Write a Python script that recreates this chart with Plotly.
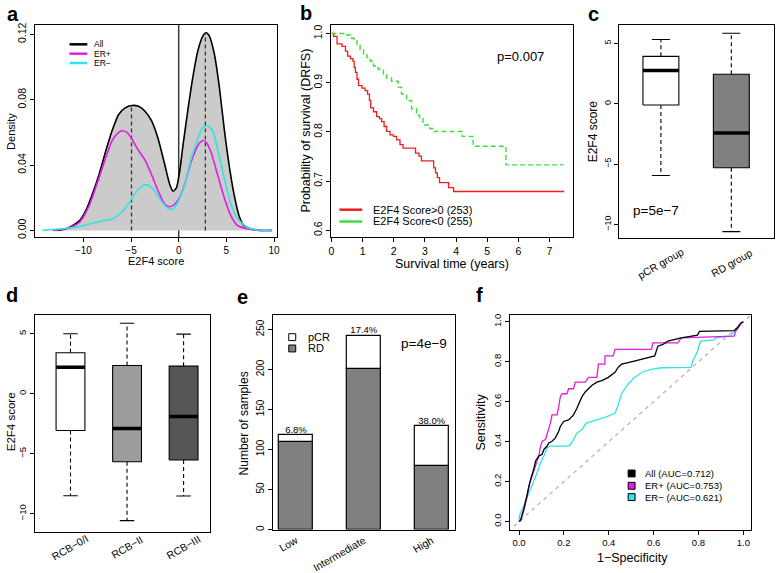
import plotly.graph_objects as go

W, H = 778, 573
FONT = "Liberation Sans, Arial, Helvetica, sans-serif"

# ---------------- data ----------------
# (a) E2F4 score densities
all_x = [-12.8, -11.8, -11.1, -10.4, -9.76, -9.07, -8.37, -7.68, -6.99, -6.30, -5.61, -4.91, -4.22, -3.53,
         -2.84, -2.15, -1.45, -0.93, -0.59, -0.24, 0.10, 0.45, 0.97, 1.49, 2.01, 2.53, 2.87, 3.22, 3.74,
         4.26, 4.78, 5.29, 5.81, 6.33, 6.85, 7.54, 8.58, 9.8]
all_y = [0.0, 0.001, 0.003, 0.006, 0.012, 0.022, 0.034, 0.048, 0.061, 0.071, 0.075, 0.0765, 0.076, 0.073,
         0.067, 0.056, 0.040, 0.028, 0.024, 0.026, 0.036, 0.052, 0.074, 0.094, 0.110, 0.119, 0.121, 0.119,
         0.108, 0.088, 0.062, 0.040, 0.022, 0.009, 0.003, 0.001, 0.0, 0.0]
erpos_x = [-13.2, -11.5, -10.4, -9.4, -8.37, -7.68, -6.99, -6.30, -5.95, -5.43, -4.91, -4.22, -3.53, -2.84,
           -2.15, -1.45, -0.93, -0.42, 0.10, 0.62, 1.31, 2.01, 2.53, 2.87, 3.39, 4.08, 4.78, 5.47, 6.16,
           7.20, 8.6, 9.8]
erpos_y = [0.0, 0.0014, 0.005, 0.015, 0.032, 0.044, 0.055, 0.060, 0.061, 0.060, 0.056, 0.049, 0.043, 0.034,
           0.024, 0.016, 0.0145, 0.016, 0.020, 0.028, 0.042, 0.052, 0.055, 0.054, 0.048, 0.034, 0.020,
           0.009, 0.003, 0.001, 0.0, 0.0]
erneg_x = [-14.3, -12.2, -10.4, -9.07, -8.03, -6.99, -6.30, -5.61, -4.91, -4.22, -3.53, -3.01, -2.32,
           -1.63, -0.93, -0.42, 0.10, 0.62, 1.31, 2.01, 2.53, 3.04, 3.56, 4.08, 4.78, 5.47, 6.16, 7.20,
           8.6, 9.8]
erneg_y = [0.0, 0.001, 0.0024, 0.0044, 0.0058, 0.007, 0.0094, 0.0135, 0.0195, 0.0255, 0.028, 0.027,
           0.0225, 0.0165, 0.013, 0.014, 0.0195, 0.0275, 0.044, 0.056, 0.063, 0.064, 0.061, 0.050, 0.032,
           0.0165, 0.0074, 0.0018, 0.0, 0.0]
mode_x = [-4.95, 2.8]
mode_y = [0.0765, 0.121]
split_x = 0

# (b) Kaplan-Meier DRFS
km_pos_t = [0, 0.07, 0.18, 0.34, 0.45, 0.52, 0.61, 0.69, 0.73, 0.77, 0.82, 0.87, 0.98, 1.08, 1.16, 1.22,
            1.26, 1.35, 1.45, 1.54, 1.61, 1.69, 1.77, 1.88, 1.99, 2.09, 2.20, 2.30, 2.70, 2.81, 2.89,
            3.28, 3.34, 3.40, 3.47, 3.76, 3.92, 7.47]
km_pos_s = [1.0, 0.994, 0.979, 0.974, 0.964, 0.954, 0.949, 0.944, 0.931, 0.921, 0.907, 0.894, 0.889,
            0.884, 0.877, 0.864, 0.849, 0.841, 0.831, 0.827, 0.821, 0.811, 0.801, 0.794, 0.791, 0.784,
            0.774, 0.767, 0.757, 0.751, 0.741, 0.727, 0.717, 0.707, 0.697, 0.687, 0.679, 0.679]
km_neg_t = [0, 0.45, 0.60, 0.72, 0.82, 0.92, 1.03, 1.14, 1.24, 1.35, 1.50, 1.67, 1.77, 1.93, 2.14, 2.25,
            2.41, 2.57, 2.73, 2.83, 2.94, 3.15, 3.31, 4.20, 4.55, 5.60, 7.45]
km_neg_s = [1.0, 0.997, 0.991, 0.985, 0.977, 0.967, 0.957, 0.951, 0.944, 0.934, 0.927, 0.917, 0.909,
            0.903, 0.891, 0.877, 0.864, 0.847, 0.834, 0.829, 0.814, 0.807, 0.801, 0.791, 0.771, 0.733,
            0.733]

# (c) E2F4 score by response
c_groups = ["pCR group", "RD group"]
c_lo = [-5.95, -10.6]
c_q1 = [-0.1, -5.3]
c_med = [2.75, -2.42]
c_q3 = [3.93, 2.45]
c_hi = [5.33, 5.85]

# (d) E2F4 score by RCB class
d_groups = ["RCB\u22120/I", "RCB\u2212II", "RCB\u2212III"]
d_lo = [-8.5, -10.57, -8.52]
d_q1 = [-3.06, -5.66, -5.52]
d_med = [2.21, -2.9, -1.89]
d_q3 = [3.41, 2.35, 2.3]
d_hi = [5.0, 5.87, 4.97]

# (e) samples per E2F4 group
e_groups = ["Low", "Intermediate", "High"]
e_rd = [110, 200, 80]
e_pcr = [8, 42, 49]
e_pct = ["6.8%", "17.4%", "38.0%"]

# (f) ROC curves
roc_all_x = [0, 0.007, 0.022, 0.037, 0.052, 0.066, 0.074, 0.088, 0.103, 0.111, 0.125, 0.133, 0.147, 0.162,
             0.177, 0.184, 0.199, 0.221, 0.243, 0.258, 0.265, 0.280, 0.295, 0.310, 0.324, 0.347, 0.369,
             0.398, 0.428, 0.442, 0.457, 0.487, 0.516, 0.575, 0.605, 0.619, 0.642, 0.664, 0.723, 0.796,
             0.804, 0.959, 0.973, 0.988, 1.0]
roc_all_y = [0, 0.008, 0.066, 0.148, 0.213, 0.263, 0.304, 0.328, 0.337, 0.361, 0.378, 0.394, 0.402, 0.419,
             0.452, 0.476, 0.501, 0.509, 0.534, 0.567, 0.583, 0.624, 0.649, 0.665, 0.681, 0.698, 0.706,
             0.722, 0.747, 0.772, 0.788, 0.796, 0.805, 0.821, 0.829, 0.878, 0.887, 0.903, 0.920, 0.933,
             0.952, 0.956, 0.969, 0.993, 1.0]
roc_pos_x = [0.007, 0.022, 0.037, 0.044, 0.059, 0.074, 0.088, 0.096, 0.103, 0.118, 0.125, 0.140, 0.147,
             0.170, 0.177, 0.184, 0.192, 0.214, 0.221, 0.243, 0.251, 0.295, 0.310, 0.347, 0.354, 0.383,
             0.383, 0.420, 0.428, 0.590, 0.597, 0.708, 0.723, 0.870, 0.959, 0.966, 0.981, 0.996]
roc_pos_y = [0, 0.057, 0.131, 0.181, 0.230, 0.279, 0.328, 0.378, 0.402, 0.411, 0.435, 0.493, 0.534,
             0.534, 0.575, 0.624, 0.640, 0.640, 0.665, 0.665, 0.698, 0.698, 0.722, 0.722, 0.788, 0.788,
             0.829, 0.829, 0.862, 0.862, 0.895, 0.895, 0.920, 0.923, 0.928, 0.952, 0.977, 1.0]
roc_neg_x = [0, 0.003, 0.022, 0.037, 0.052, 0.066, 0.081, 0.096, 0.111, 0.125, 0.140, 0.221, 0.229, 0.243,
             0.258, 0.280, 0.300, 0.383, 0.428, 0.442, 0.457, 0.487, 0.516, 0.553, 0.590, 0.634, 0.767,
             0.774, 0.796, 0.804, 0.811, 0.870, 0.878, 0.944, 0.959, 0.988, 1.0]
roc_neg_y = [0, 0.033, 0.082, 0.123, 0.164, 0.205, 0.246, 0.296, 0.328, 0.369, 0.378, 0.378, 0.386, 0.411,
             0.443, 0.460, 0.493, 0.522, 0.542, 0.583, 0.640, 0.690, 0.722, 0.750, 0.762, 0.770, 0.772,
             0.803, 0.852, 0.885, 0.903, 0.910, 0.920, 0.930, 0.952, 0.992, 1.0]
roc_labels = ["All (AUC=0.712)", "ER+ (AUC=0.753)", "ER\u2212 (AUC=0.621)"]

# ---------------- styling ----------------
MAGENTA = "#e01ee0"
CYAN = "#2ee4e4"
RED = "#f01c1c"
GREEN = "#3ede3e"


def px(x):
    return x / W


def py(y):
    return 1 - y / H


def dom(x0, x1, y0, y1):
    return [x0 / W, x1 / W], [1 - y1 / H, 1 - y0 / H]


fig = go.Figure()


def axis(domain, rng, size=10, **kw):
    d = dict(domain=domain, range=rng, showline=True, mirror=True, linecolor="black", linewidth=1,
             ticks="outside", ticklen=4, tickwidth=1, tickcolor="black", showgrid=False, zeroline=False,
             tickfont=dict(family=FONT, size=size, color="black"), fixedrange=True)
    d.update(kw)
    return d


# ---- panel a ----
fig.add_shape(type="line", xref="x", yref="y domain", x0=split_x, x1=split_x, y0=0, y1=1,
              line=dict(color="#3a3a3a", width=1.5), layer="below")
fig.add_trace(go.Scatter(x=all_x, y=all_y, mode="lines", fill="tozeroy", fillcolor="#cbcbcb",
                         line=dict(color="black", width=1.6, shape="spline", smoothing=0.6),
                         xaxis="x", yaxis="y"))
for mx, my in zip(mode_x, mode_y):
    fig.add_trace(go.Scatter(x=[mx, mx], y=[0, my], mode="lines",
                             line=dict(color="#333333", width=1.3, dash="4px,3px"), xaxis="x", yaxis="y"))
fig.add_trace(go.Scatter(x=erpos_x, y=erpos_y, mode="lines",
                         line=dict(color=MAGENTA, width=1.6, shape="spline", smoothing=0.6),
                         xaxis="x", yaxis="y"))
fig.add_trace(go.Scatter(x=erneg_x, y=erneg_y, mode="lines",
                         line=dict(color=CYAN, width=1.6, shape="spline", smoothing=0.6),
                         xaxis="x", yaxis="y"))

# ---- panel b ----
fig.add_trace(go.Scatter(x=km_pos_t, y=km_pos_s, mode="lines", line=dict(color=RED, width=1.3, shape="hv"),
                         xaxis="x2", yaxis="y2"))
fig.add_trace(go.Scatter(x=km_neg_t, y=km_neg_s, mode="lines",
                         line=dict(color=GREEN, width=1.4, shape="hv", dash="5px,3px"),
                         xaxis="x2", yaxis="y2"))


# ---- box helper ----
def add_box(xa, ya, xc, lo, q1, med, q3, hi, color, w):
    dash = dict(color="black", width=1.1, dash="4px,3px")
    fig.add_trace(go.Scatter(x=[xc, xc], y=[q3, hi], mode="lines", line=dash, xaxis=xa, yaxis=ya))
    fig.add_trace(go.Scatter(x=[xc, xc], y=[q1, lo], mode="lines", line=dash, xaxis=xa, yaxis=ya))
    for v in (lo, hi):
        fig.add_trace(go.Scatter(x=[xc - w / 4, xc + w / 4], y=[v, v], mode="lines",
                                 line=dict(color="black", width=1.1), xaxis=xa, yaxis=ya))
    fig.add_trace(go.Scatter(x=[xc - w / 2, xc + w / 2, xc + w / 2, xc - w / 2, xc - w / 2],
                             y=[q1, q1, q3, q3, q1], mode="lines", fill="toself", fillcolor=color,
                             line=dict(color="black", width=1.1), xaxis=xa, yaxis=ya))
    fig.add_trace(go.Scatter(x=[xc - w / 2, xc + w / 2], y=[med, med], mode="lines",
                             line=dict(color="black", width=3.5), xaxis=xa, yaxis=ya))


# ---- panel c ----
c_colors = ["white", "#808080"]
for i in range(len(c_groups)):
    add_box("x3", "y3", i + 1, c_lo[i], c_q1[i], c_med[i], c_q3[i], c_hi[i], c_colors[i], 0.51)

# ---- panel d ----
d_colors = ["white", "#9c9c9c", "#565656"]
for i in range(len(d_groups)):
    add_box("x4", "y4", i + 1, d_lo[i], d_q1[i], d_med[i], d_q3[i], d_hi[i], d_colors[i], 0.51)

# ---- panel e ----
e_x = list(range(1, len(e_groups) + 1))
fig.add_trace(go.Bar(x=e_x, y=e_rd, base=0, width=0.5, marker=dict(color="#808080",
                                                                    line=dict(color="black", width=1.2)),
                     xaxis="x5", yaxis="y5"))
fig.add_trace(go.Bar(x=e_x, y=e_pcr, base=e_rd, width=0.5, marker=dict(color="white",
                                                                        line=dict(color="black", width=1.2)),
                     xaxis="x5", yaxis="y5"))
fig.add_trace(go.Scatter(x=e_x, y=[r + p for r, p in zip(e_rd, e_pcr)], mode="text", text=e_pct,
                         textposition="top center", cliponaxis=False,
                         textfont=dict(family=FONT, size=9.5, color="black"), xaxis="x5", yaxis="y5"))

# ---- panel f ----
fig.add_trace(go.Scatter(x=[-0.05, 1.05], y=[-0.05, 1.05], mode="lines",
                         line=dict(color="#aaaaaa", width=1.1, dash="4px,4px"), xaxis="x6", yaxis="y6"))
fig.add_trace(go.Scatter(x=roc_neg_x, y=roc_neg_y, mode="lines", line=dict(color=CYAN, width=1.3),
                         xaxis="x6", yaxis="y6"))
fig.add_trace(go.Scatter(x=roc_pos_x, y=roc_pos_y, mode="lines", line=dict(color=MAGENTA, width=1.3),
                         xaxis="x6", yaxis="y6"))
fig.add_trace(go.Scatter(x=roc_all_x, y=roc_all_y, mode="lines", line=dict(color="black", width=1.3),
                         xaxis="x6", yaxis="y6"))

# ---------------- axes ----------------
dxa, dya = dom(32, 276, 23, 239)
dxb, dyb = dom(331, 574, 23, 239)
dxc, dyc = dom(621, 777, 23, 240)
dxd, dyd = dom(32, 209, 318, 538)
dxe, dye = dom(272, 456, 318, 536)
dxf, dyf = dom(511, 754, 318, 536)

layout = dict(
    xaxis=axis(dxa, [-15.1, 10.3], 10, tickvals=[-10, -5, 0, 5, 10], anchor="y"),
    yaxis=axis(dya, [-0.0042, 0.126], 10.5, tickvals=[0, 0.04, 0.08, 0.12],
               ticktext=["0.00", "0.04", "0.08", "0.12"], tickangle=-90, anchor="x"),
    xaxis2=axis(dxb, [0, 7.74], 10.5, tickvals=list(range(0, 8)), anchor="y2"),
    yaxis2=axis(dyb, [0.586, 1.018], 10.5, tickvals=[0.6, 0.7, 0.8, 0.9, 1.0],
                ticktext=["0.6", "0.7", "0.8", "0.9", "1.0"], tickangle=-90, anchor="x2"),
    xaxis3=axis(dxc, [0.408, 2.606], 10, tickvals=[1, 2], ticktext=["", ""], ticks="", anchor="y3"),
    yaxis3=axis(dyc, [-11.15, 6.56], 9, tickvals=[-10, -5, 0, 5], tickangle=-90, anchor="x3"),
    xaxis4=axis(dxd, [0.368, 3.474], 10, tickvals=[1, 2, 3], ticktext=["", "", ""], ticks="", anchor="y4"),
    yaxis4=axis(dyd, [-11.48, 6.56], 9.5, tickvals=[-10, -5, 0, 5], tickangle=-90, anchor="x4"),
    xaxis5=axis(dxe, [0.66, 3.35], 10.5, tickvals=e_x, ticktext=e_groups, ticks="", tickangle=-30,
                anchor="y5"),
    yaxis5=axis(dye, [0, 268], 10, tickvals=[0, 50, 100, 150, 200, 250], tickangle=-90, anchor="x5"),
    xaxis6=axis(dxf, [-0.04, 1.035], 9.5, tickvals=[0, 0.2, 0.4, 0.6, 0.8, 1.0],
                ticktext=["0.0", "0.2", "0.4", "0.6", "0.8", "1.0"], anchor="y6"),
    yaxis6=axis(dyf, [-0.04, 1.034], 9.5, tickvals=[0, 0.2, 0.4, 0.6, 0.8, 1.0],
                ticktext=["0.0", "0.2", "0.4", "0.6", "0.8", "1.0"], tickangle=-90, anchor="x6"),
)

ann = []


def text(s, x, y, size, angle=0, xanchor="center", bold=False):
    ann.append(dict(text=("<b>%s</b>" % s) if bold else s, x=px(x), y=py(y), xref="paper", yref="paper",
                    xanchor=xanchor, yanchor="middle", showarrow=False, textangle=angle,
                    font=dict(family=FONT, size=size, color="black")))


# panel letters
for lab, x, y in [("a", 10, 12), ("b", 305, 11), ("c", 595, 12), ("d", 9, 298), ("e", 241, 300),
                  ("f", 480, 298)]:
    text(lab, x, y, 20, bold=True)

# axis titles
text("Density", 8, 131, 11, -90)
text("E2F4 score", 154, 263, 11)
text("Probability of survival (DRFS)", 305, 131, 12.5, -90)
text("Survival time (years)", 452, 266, 12.5)
text("E2F4 score", 595, 131, 12, -90)
text("E2F4 score", 8, 426, 11.5, -90)
text("Number of samples", 243, 428, 12, -90)
text("Sensitivity", 482, 427, 12.5, -90)
text("1\u2212Specificity", 634, 565, 12.5)

# rotated category labels for c and d, centred under each box
for i, g in enumerate(c_groups):
    ann.append(dict(text=g, x=i + 1, y=py(265), xref="x3", yref="paper", showarrow=False, textangle=-30,
                    xanchor="center", yanchor="middle", font=dict(family=FONT, size=10.5, color="black")))
for i, g in enumerate(d_groups):
    ann.append(dict(text=g, x=i + 1, y=py(554), xref="x4", yref="paper", showarrow=False, textangle=-30,
                    xanchor="center", yanchor="middle", font=dict(family=FONT, size=10.5, color="black")))

# p-values
text("p=0.007", 522, 55, 13)
text("p=5e\u22127", 658, 212, 13.5)
text("p=4e\u22129", 424, 347, 13.5)

# legends
shapes = []
for lab, col, y in [("All", "black", 43), ("ER+", MAGENTA, 52.5), ("ER\u2212", CYAN, 62)]:
    shapes.append(dict(type="line", xref="paper", yref="paper", x0=px(67), x1=px(85), y0=py(y), y1=py(y),
                       line=dict(color=col, width=2.5)))
    text(lab, 90, y, 8.5, xanchor="left")
for lab, col, y in [("E2F4 Score>0 (253)", RED, 211), ("E2F4 Score<0 (255)", GREEN, 223)]:
    shapes.append(dict(type="line", xref="paper", yref="paper", x0=px(339), x1=px(362), y0=py(y), y1=py(y),
                       line=dict(color=col, width=2.5)))
    text(lab, 371, y, 11, xanchor="left")
for lab, col, y in [("pCR", "white", 340.5), ("RD", "#808080", 352)]:
    shapes.append(dict(type="rect", xref="paper", yref="paper", x0=px(288), x1=px(295), y0=py(y - 3.5),
                       y1=py(y + 3.5), fillcolor=col, line=dict(color="black", width=1)))
    text(lab, 305, y, 11, xanchor="left")
for lab, col, y in [(roc_labels[0], "black", 479), (roc_labels[1], MAGENTA, 491.5), (roc_labels[2], CYAN, 503)]:
    shapes.append(dict(type="rect", xref="paper", yref="paper", x0=px(630), x1=px(637), y0=py(y - 3.5),
                       y1=py(y + 3.5), fillcolor=col, line=dict(color="black", width=1)))
    text(lab, 645, y, 9.5, xanchor="left")

fig.update_layout(**layout)
fig.update_layout(width=W, height=H, margin=dict(l=0, r=0, t=0, b=0), paper_bgcolor="white",
                  plot_bgcolor="white", showlegend=False, barmode="overlay", bargap=0,
                  annotations=ann, font=dict(family=FONT, color="black"))
for s in shapes:
    fig.add_shape(**s)

fig.write_html("out.html", config={"displayModeBar": False},
               post_script="document.body.style.margin='0';document.body.style.overflow='hidden';")
